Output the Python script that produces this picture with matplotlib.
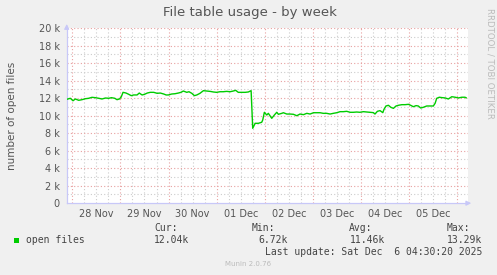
import matplotlib
matplotlib.use('Agg')
import matplotlib.pyplot as plt
from matplotlib.ticker import FixedLocator

# ---- data (hours since 27 Nov 00:00, value in thousands of open files) ----
hours = [21.2, 23.0, 24.35, 25.5, 27.2, 28.8, 30.5, 32.2, 33.8, 35.5, 37.2, 38.8,
         40.5, 42.2, 43.5, 45.2, 46.3, 47.5, 48.4, 49.3, 50.8, 52.1, 53.4, 54.6,
         56.3, 57.4, 58.8, 60.1, 61.4, 62.9, 64.6, 66.3, 67.9, 69.6, 70.8, 71.9,
         73.6, 75.2, 76.9, 78.2, 79.4, 81.1, 82.2, 83.6, 84.9, 86.1, 87.7, 89.4,
         91.1, 92.7, 94.4, 96.0, 97.7, 99.3, 101.0, 102.7, 104.3, 105.5, 106.8,
         108.5, 110.2, 111.8, 113.2, 114.0, 115.2, 116.8, 118.5, 119.0, 119.8,
         121.0, 121.8, 123.5, 124.8, 126.0, 126.8, 128.5, 129.3, 131.0, 132.6,
         134.3, 136.0, 137.6, 139.3, 141.0, 142.6, 144.3, 146.0, 147.6, 149.2,
         150.9, 152.6, 154.2, 155.9, 157.6, 159.2, 160.9, 162.6, 164.2, 165.9,
         167.5, 169.2, 172.5, 174.2, 175.0, 176.2, 177.5, 178.9, 179.5, 180.5,
         181.7, 182.9, 184.2, 185.5, 186.7, 188.4, 190.0, 191.7, 192.8, 194.1,
         195.5, 196.6, 197.8, 199.1, 200.8, 202.5, 204.1, 205.0, 205.8, 207.1,
         208.3, 210.0, 211.6, 213.3, 215.0, 216.6, 218.3, 219.9, 220.5]
open_files_k = [11.87, 11.99, 11.71, 11.91, 11.76, 11.83, 11.94, 11.99, 12.10, 12.06, 11.99, 11.91,
                12.02, 11.99, 12.06, 11.99, 11.83, 11.91, 12.14, 12.67, 12.59, 12.45, 12.29, 12.37,
                12.37, 12.59, 12.37, 12.45, 12.59, 12.67, 12.67, 12.56, 12.59, 12.48, 12.37, 12.37,
                12.48, 12.51, 12.59, 12.67, 12.82, 12.67, 12.74, 12.56, 12.29, 12.37, 12.56, 12.86,
                12.82, 12.78, 12.71, 12.67, 12.74, 12.74, 12.78, 12.74, 12.82, 12.90, 12.67,
                12.67, 12.67, 12.71, 12.86, 8.56, 9.13, 9.13, 9.25, 9.51, 10.39,
                10.08, 10.27, 9.70, 10.08, 10.39, 10.16, 10.27, 10.34, 10.19, 10.19,
                10.16, 10.00, 10.19, 10.12, 10.27, 10.19, 10.34, 10.34, 10.34, 10.27,
                10.27, 10.19, 10.27, 10.34, 10.46, 10.46, 10.50, 10.39, 10.39, 10.42,
                10.39, 10.46, 10.39, 10.35, 10.19, 10.50, 10.58, 10.35, 10.73, 11.11,
                11.19, 10.96, 10.84, 11.11, 11.19, 11.26, 11.26, 11.30, 11.19, 11.03,
                11.15, 11.11, 10.88, 10.96, 11.11, 11.11, 11.11, 11.42, 11.99, 12.11,
                12.07, 12.03, 11.91, 12.17, 12.11, 12.03, 12.11, 12.11, 12.04]

day_labels = ['28 Nov', '29 Nov', '30 Nov', '01 Dec', '02 Dec', '03 Dec', '04 Dec', '05 Dec']
label_hours = [36, 60, 84, 108, 132, 156, 180, 204]
midnight_hours = [24, 48, 72, 96, 120, 144, 168, 192, 216]
six_hour_marks = list(range(24, 222, 6))
y_ticks = [0, 2, 4, 6, 8, 10, 12, 14, 16, 18, 20]
y_labels = ['0', '2 k', '4 k', '6 k', '8 k', '10 k', '12 k', '14 k', '16 k', '18 k', '20 k']
y_minor = [1, 3, 5, 7, 9, 11, 13, 15, 17, 19]

series_name = 'open files'
stat_names = ['Cur:', 'Min:', 'Avg:', 'Max:']
stat_values = ['12.04k', '6.72k', '11.46k', '13.29k']

# ---- figure ----
W, H = 497, 275
fig = plt.figure(figsize=(W / 100, H / 100), dpi=100, facecolor='#F0F0F0')
x0, x1, ytop, ybot = 66.7, 468.0, 28.2, 203.2
ax = fig.add_axes([x0 / W, 1 - ybot / H, (x1 - x0) / W, (ybot - ytop) / H])
ax.set_facecolor('white')
ax.set_xlim(21.2, 221.4)
ax.set_ylim(0, 20)

dots = (0, (1, 2))
minor_col = '#CCCCCC'
major_col = '#E8A0A0'
for h in six_hour_marks:
    if h not in midnight_hours:
        ax.axvline(h, color=minor_col, lw=0.8, ls=dots, zorder=1)
for v in y_minor:
    ax.axhline(v, color=minor_col, lw=0.8, ls=dots, zorder=1)
for h in midnight_hours:
    ax.axvline(h, color=major_col, lw=0.8, ls=dots, zorder=1)
for v in y_ticks[1:]:
    ax.axhline(v, color=major_col, lw=0.8, ls=dots, zorder=1)

ax.plot(hours, open_files_k, color='#00CC00', lw=1.0, zorder=3)

for s in ['top', 'right']:
    ax.spines[s].set_visible(False)
axis_col = '#C8C8F8'
ax.spines['left'].set_color(axis_col)
ax.spines['bottom'].set_color(axis_col)
ax.spines['left'].set_linewidth(0.9)
ax.spines['bottom'].set_linewidth(0.9)
# axis arrows
ax.annotate('', xy=(0, 1.04), xytext=(0, 0.98), xycoords='axes fraction',
            arrowprops=dict(arrowstyle='-|>', color=axis_col, lw=0.9, mutation_scale=7),
            annotation_clip=False)
ax.annotate('', xy=(1.015, 0), xytext=(0.99, 0), xycoords='axes fraction',
            arrowprops=dict(arrowstyle='-|>', color=axis_col, lw=0.9, mutation_scale=7),
            annotation_clip=False)

ax.yaxis.set_major_locator(FixedLocator(y_ticks))
ax.set_yticklabels(y_labels)
ax.xaxis.set_major_locator(FixedLocator(label_hours))
ax.set_xticklabels(day_labels)
ax.tick_params(axis='y', length=0, pad=5, labelsize=7, labelcolor='#555555')
ax.tick_params(axis='x', length=0, pad=4, labelsize=7, labelcolor='#555555')

# title and labels
fig.text(250 / W, 1 - 12.5 / H, 'File table usage - by week', ha='center', va='center',
         fontsize=9.5, color='#555555')
fig.text(12 / W, 1 - 116 / H, 'number of open files', ha='center', va='center',
         rotation=90, fontsize=7.5, color='#555555')
fig.text(490 / W, 1 - 63 / H, 'RRDTOOL / TOBI OETIKER', ha='center', va='center',
         rotation=270, fontsize=6.2, color='#BBBBBB')

# legend block
mono = 'DejaVu Sans Mono'
fig.patches.append(plt.Rectangle((14 / W, 1 - 242.5 / H), 5 / W, 5 / H,
                                 transform=fig.transFigure, facecolor='#00CC00',
                                 edgecolor='none'))
fig.text(26 / W, 1 - 240 / H, series_name, ha='left', va='center', family=mono,
         fontsize=7, color='#444444')
stat_x = [154, 251.7, 349.3, 446.7]
value_right = [189.5, 287.3, 385.0, 482.3]
for sx, name in zip(stat_x, stat_names):
    fig.text(sx / W, 1 - 228 / H, name, ha='left', va='center', family=mono,
             fontsize=7, color='#444444')
for vx, val in zip(value_right, stat_values):
    fig.text(vx / W, 1 - 240 / H, val, ha='right', va='center', family=mono,
             fontsize=7, color='#444444')
fig.text(482.3 / W, 1 - 252 / H, 'Last update: Sat Dec  6 04:30:20 2025', ha='right',
         va='center', family=mono, fontsize=7, color='#444444')
fig.text(248 / W, 1 - 264.5 / H, 'Munin 2.0.76', ha='center', va='center',
         fontsize=5, color='#BBBBBB')

fig.savefig('out.png', dpi=100, facecolor=fig.get_facecolor())
